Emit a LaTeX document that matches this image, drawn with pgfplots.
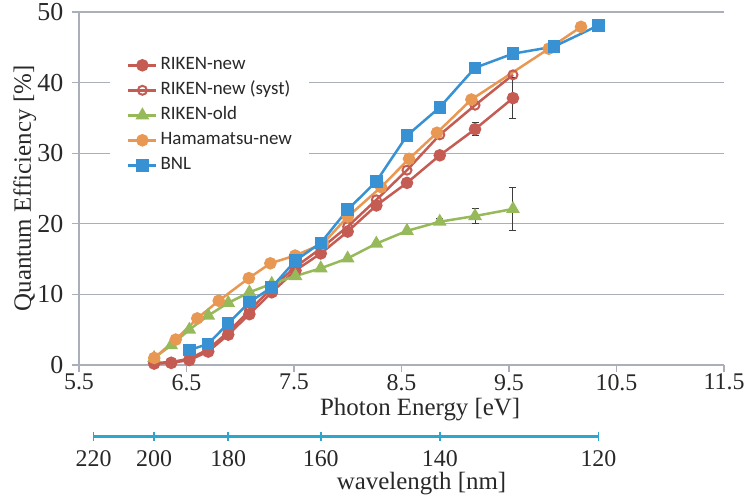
\documentclass[border=0pt]{standalone}
\usepackage{pgfplots}
\pgfplotsset{compat=1.18}
\usepackage{fontspec}
\setmainfont{Liberation Serif}
\newfontfamily\legendfont{Carlito}

\definecolor{cred}{RGB}{197,92,84}
\definecolor{cgreen}{RGB}{150,185,90}
\definecolor{corange}{RGB}{232,152,82}
\definecolor{cblue}{RGB}{55,145,210}
\definecolor{cgrid}{RGB}{170,175,185}
\definecolor{ccyan}{RGB}{45,165,205}
\definecolor{ctext}{RGB}{40,40,40}
\definecolor{cerr}{RGB}{60,60,60}

\begin{document}
\begin{tikzpicture}
\begin{axis}[
  scale only axis, width=645bp, height=353bp,
  xmin=5.5, xmax=11.5, ymin=0, ymax=50,
  axis x line*=bottom, axis y line*=left,
  axis line style={cgrid, line width=1.2bp},
  xtick={5.5,6.5,7.5,8.5,9.5,10.5,11.5},
  xticklabels={5.5,6.5,7.5,8.5,9.5,10.5,11.5},
  ytick={0,10,20,30,40,50},
  ymajorgrids, grid style={cgrid, line width=1.2bp},
  tick align=outside, major tick length=7bp,
  tick style={cgrid, line width=1.2bp},
  /pgf/number format/assume math mode=true,
  x tick label style={font=\fontsize{24}{24}\selectfont, text=ctext, inner ysep=1bp, inner xsep=0bp, yshift=-1bp},
  y tick label style={font=\fontsize{26}{26}\selectfont, text=ctext, inner xsep=2bp, inner ysep=0bp, xshift=-6.5bp},
  xlabel={Photon Energy [eV]}, ylabel={Quantum Efficiency [\%]},
  every axis x label/.style={at={(axis description cs:0.529,-0.126)}, anchor=center, inner sep=0bp,
    font=\fontsize{25}{25}\selectfont, text=ctext},
  every axis y label/.style={at={(axis description cs:-0.084,0.5)}, rotate=90, anchor=center,
    font=\fontsize{25}{25}\selectfont, text=ctext},
  legend cell align=left,
  legend image code/.code={\draw[mark repeat=2,mark phase=2,#1] plot coordinates {(0bp,0bp) (14bp,0bp) (28bp,0bp)};},
  legend style={at={(axis description cs:0.048,0.885)}, anchor=north west,
    draw=none, fill=white, text=ctext,
    font=\legendfont\fontsize{19}{22}\selectfont,
    inner xsep=17bp, inner ysep=4bp,
    nodes={inner sep=0bp, text height=13bp, text depth=4bp},
    row sep=8bp, column sep=3bp},
]
% error bars
\addplot[forget plot, draw=none, mark=none,
  error bars/.cd, y dir=both, y explicit,
  error bar style={draw=cerr, line width=1bp, solid},
  error mark options={rotate=90, mark size=3.5bp, draw=cerr, line width=1bp}]
  coordinates {(9.184,33.4) +- (0,0.9) (9.537,37.8) +- (0,2.9)
               (8.856,20.3) +- (0,0.4) (9.184,21.1) +- (0,1.0) (9.537,22.1) +- (0,3.1)};

\addplot[cred, line width=2.5bp, mark=*, mark size=5bp, mark options={solid, fill=cred, draw=cred}]
  coordinates {(6.199,0.2) (6.358,0.3) (6.526,0.7) (6.702,1.9) (6.888,4.3) (7.085,7.2) (7.293,10.3)
  (7.514,13.4) (7.749,15.8) (7.999,18.9) (8.266,22.6) (8.551,25.8) (8.856,29.7) (9.184,33.4) (9.537,37.8)};
\addlegendentry{RIKEN-new}

\addplot[cred, line width=2.5bp, mark=o, mark size=4.5bp, mark options={solid, draw=cred, line width=2bp}]
  coordinates {(6.199,0.3) (6.358,0.4) (6.526,0.9) (6.702,2.2) (6.888,4.7) (7.085,7.7) (7.293,10.9)
  (7.514,13.9) (7.749,16.5) (7.999,19.6) (8.266,23.4) (8.551,27.6) (8.856,32.6) (9.184,36.8) (9.537,41.1)};
\addlegendentry{RIKEN-new (syst)}

\addplot[cgreen, line width=2.5bp, mark=triangle*, mark size=5.5bp, mark options={solid, fill=cgreen, draw=cgreen}]
  coordinates {(6.199,1.0) (6.358,2.8) (6.526,5.0) (6.702,7.0) (6.888,8.8) (7.085,10.3) (7.293,11.5)
  (7.514,12.6) (7.749,13.7) (7.999,15.1) (8.266,17.2) (8.551,19.0) (8.856,20.3) (9.184,21.1) (9.537,22.1)};
\addlegendentry{RIKEN-old}

\addplot[corange, line width=2.5bp, mark=*, mark size=5bp, mark options={solid, fill=corange, draw=corange}]
  coordinates {(6.20,1.0) (6.40,3.6) (6.60,6.6) (6.80,9.1) (7.08,12.3) (7.28,14.4) (7.51,15.5)
  (7.77,17.2) (8.00,21.0) (8.31,25.2) (8.57,29.2) (8.83,32.9) (9.15,37.6) (9.87,44.8) (10.17,47.9)};
\addlegendentry{Hamamatsu-new}

\addplot[cblue, line width=2.5bp, mark=square*, mark size=5bp, mark options={solid, fill=cblue, draw=cblue}]
  coordinates {(6.526,2.1) (6.702,3.0) (6.888,5.9) (7.085,8.9) (7.293,11.0) (7.514,14.8) (7.749,17.3)
  (7.999,22.0) (8.266,26.0) (8.551,32.5) (8.856,36.5) (9.184,42.1) (9.537,44.1) (9.919,45.1) (10.332,48.1)};
\addlegendentry{BNL}
\end{axis}

\begin{axis}[
  at={(0bp,-71bp)}, anchor=south west,
  scale only axis, width=645bp, height=10bp,
  xmin=5.5, xmax=11.5, ymin=0, ymax=1,
  clip=false,
  axis line style={draw=none}, ytick=\empty,
  xtick={5.636,6.199,6.888,7.749,8.856,10.332},
  xticklabels={220,200,180,160,140,120},
  major tick length=0bp, tick style={draw=none},
  /pgf/number format/assume math mode=true,
  x tick label style={font=\fontsize{24}{24}\selectfont, text=ctext, anchor=center, inner sep=1bp, yshift=-23bp},
  xlabel={wavelength [nm]},
  every axis x label/.style={at={(axis description cs:0.531,0)}, anchor=center, inner sep=0bp, yshift=-48bp,
    font=\fontsize{25}{25}\selectfont, text=ctext},
]
\addplot[ccyan, line width=3bp, mark=|, mark size=4.5bp, mark options={solid, line width=1.5bp}]
  coordinates {(5.636,0) (6.199,0) (6.888,0) (7.749,0) (8.856,0) (10.332,0)};
\end{axis}
\pgfresetboundingbox
\path[use as bounding box] (-79bp,-136bp) rectangle (666bp,365bp);
\end{tikzpicture}
\end{document}
